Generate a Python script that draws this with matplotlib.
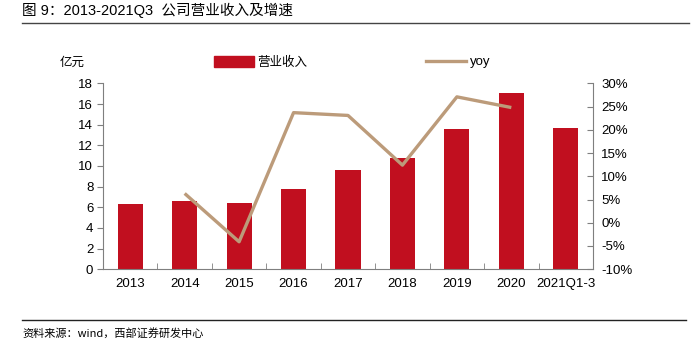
import matplotlib
matplotlib.use("Agg")
import matplotlib.pyplot as plt
from matplotlib.lines import Line2D
from matplotlib.patches import Patch

plt.rcParams['font.family'] = ['Liberation Sans', 'Noto Sans CJK SC', 'DejaVu Sans']

categories = ['2013', '2014', '2015', '2016', '2017', '2018', '2019', '2020', '2021Q1-3']
revenue = [6.3, 6.6, 6.4, 7.8, 9.6, 10.8, 13.6, 17.1, 13.7]
yoy_cats = ['2014', '2015', '2016', '2017', '2018', '2019', '2020']
yoy = [6.3, -4.1, 23.7, 23.1, 12.4, 27.1, 24.8]
left_ticks = [0, 2, 4, 6, 8, 10, 12, 14, 16, 18]
right_ticks = [-10, -5, 0, 5, 10, 15, 20, 25, 30]

bar_color = '#C10F1F'
line_color = '#BC9B7A'
spine_color = '#7F7F7F'

fig = plt.figure(figsize=(6.96, 3.46), dpi=100)
ax = fig.add_axes([0.148, 0.222, 0.704, 0.537])
x = list(range(len(categories)))
ax.bar(x, revenue, width=0.46, color=bar_color, zorder=2)
ax.set_xlim(-0.5, len(categories) - 0.5)
ax.set_ylim(0, 18)
ax.set_yticks(left_ticks)
ax.set_yticklabels([str(t) for t in left_ticks], fontsize=9.5)
ax.set_xticks(x)
ax.set_xticklabels(categories, fontsize=9.5)
ax.tick_params(axis='x', length=0, pad=6)
ax.set_xticks([i + 0.5 for i in range(len(categories) - 1)], minor=True)
ax.tick_params(axis='x', which='minor', direction='in', length=4, color=spine_color)
ax.tick_params(axis='y', direction='out', length=4, color=spine_color, pad=3)
for s in ['top', 'right']:
    ax.spines[s].set_visible(False)
for s in ['left', 'bottom']:
    ax.spines[s].set_color(spine_color)

ax2 = ax.twinx()
xi = [categories.index(c) for c in yoy_cats]
ax2.plot(xi, yoy, color=line_color, lw=2.4, zorder=3, solid_capstyle='butt')
ax2.set_ylim(-10, 30)
ax2.set_yticks(right_ticks)
ax2.set_yticklabels([f'{t}%' for t in right_ticks], fontsize=9.5)
ax2.tick_params(axis='y', direction='in', length=4, color=spine_color, pad=6)
for s in ['top', 'left', 'bottom']:
    ax2.spines[s].set_visible(False)
ax2.spines['right'].set_color(spine_color)

cjk = ['Noto Sans CJK SC', 'DejaVu Sans']
fig.text(0.086, 0.82, '亿元', fontsize=9, family=cjk, va='center')

handles = [Patch(color=bar_color), Line2D([0], [0], color=line_color, lw=2.4)]
leg1 = fig.legend([handles[0]], ['营业收入'], loc='center left', bbox_to_anchor=(0.298, 0.82),
                  frameon=False, prop={'family': cjk, 'size': 9}, handlelength=3.2,
                  handleheight=0.9, handletextpad=0.3, borderpad=0)
leg2 = fig.legend([handles[1]], ['yoy'], loc='center left', bbox_to_anchor=(0.603, 0.82),
                  frameon=False, prop={'size': 9.5}, handlelength=3.0, handletextpad=0.3, borderpad=0)

fig.text(0.032, 0.97, '图 9：2013-2021Q3  公司营业收入及增速', fontsize=10.5, family=['Liberation Sans', 'Noto Sans CJK SC'], va='center')
fig.add_artist(Line2D([0.032, 0.99], [0.934, 0.934], color='#444444', lw=1.0))
fig.add_artist(Line2D([0.032, 0.985], [0.075, 0.075], color='#222222', lw=1.0))
fig.text(0.032, 0.038, '资料来源：wind，西部证券研发中心', fontsize=8, family=['Noto Sans CJK SC', 'DejaVu Sans'], va='center')

fig.savefig('out.png', dpi=100)
